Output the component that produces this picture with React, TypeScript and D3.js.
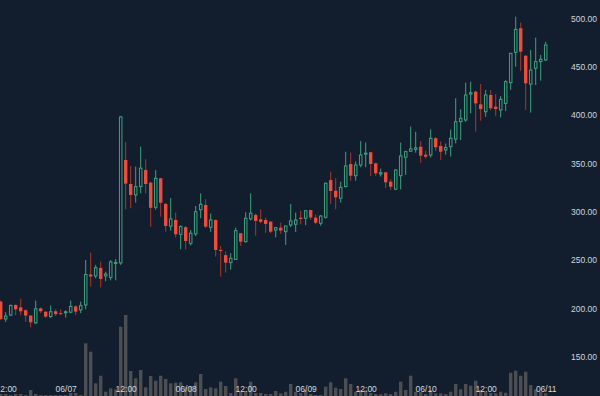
import React, { useEffect, useRef } from "react";
import * as d3 from "d3";

// hourly candles, first one at 06/06 11:00
const startTime = Date.UTC(2018, 5, 6, 11);

const opens = [
  207, 189, 193, 203.5, 201, 198, 192.5, 185, 200, 196.5, 191.5, 197, 195, 195.6, 196, 202, 198.4, 203.5, 235, 233.5,
  241.8, 233.5, 232, 246.5, 247, 353.5, 328.6, 317.3, 326, 343, 330, 304.5, 334.5, 308, 285, 291.4, 276.6, 283.9, 267.3, 277,
  302, 306.9, 283.9, 291.4, 260.4, 255, 247.3, 250.6, 277.7, 269, 292.5, 296.6, 292, 291.4, 289.7, 281, 283.5, 279.3, 286.2, 287,
  293.8, 293.2, 301.7, 293.8, 288, 294.2, 332.7, 321.7, 313.9, 326, 349.3, 337.2, 348.3, 359.5, 361.4, 350, 339, 340.7, 331, 323.2,
  337.2, 356.3, 362.5, 364.4, 367.2, 358.9, 358.6, 376, 368, 363.8, 367.2, 375, 393.1, 394.8, 421.7, 424.1, 411, 403.4, 420.7, 408.6,
  405.2, 412, 433.4, 464.8, 489.7, 461.3, 432, 448.3, 455.2, 456.9,
];
const highs = [
  208, 196, 204, 204, 210, 199, 193, 208, 201, 197, 203, 199, 199, 198, 208, 203, 207, 250, 257.6, 245,
  248.3, 238, 250, 251, 399, 372, 347.3, 346.6, 367.2, 354.2, 331, 343, 335, 309, 314, 299, 286, 285, 281, 305.9,
  319, 312.8, 298, 292, 264.5, 258.6, 257, 283.5, 278, 299.4, 319, 298, 302.5, 294, 290, 284, 288.6, 285.5, 308, 299,
  301, 301.5, 302, 297, 296.5, 330, 341.4, 334.5, 331, 362, 361, 352, 373, 371.6, 362, 350.5, 344.5, 341, 333.5, 344,
  371.4, 363, 387.9, 382.7, 373, 363, 385.2, 377, 372.6, 370.5, 385, 417.3, 405.9, 433.4, 434.4, 425, 432.1, 426, 425.8, 421.7,
  419.5, 436, 464, 501.7, 495.5, 462, 467.2, 480, 462, 475.8,
];
const lows = [
  188, 186, 192, 193, 193, 186, 180.5, 184, 195, 190, 190, 192, 193, 190.4, 195, 193, 195, 199, 222.5, 231,
  221.8, 228, 229, 229, 245, 302.5, 303.5, 309.4, 319, 319, 284.5, 302, 294.8, 279.3, 280.4, 273.1, 261.1, 261, 265, 274.9,
  293.2, 283, 279, 253.5, 232.8, 236.9, 240, 250, 264.5, 268, 291, 275.2, 288, 278.3, 277.7, 273.5, 277, 265.6, 284, 279,
  287, 286, 291.5, 287, 285.5, 293, 308, 302.5, 309.4, 325, 332, 332, 346, 346, 336.9, 337, 336.3, 324.2, 322.5, 323,
  323, 338, 362, 361, 350.7, 355, 356, 362.7, 353.5, 359, 357, 370.7, 374.1, 393, 401.8, 382.7, 394.1, 398, 405, 399,
  397.6, 404, 426, 450, 445.8, 405.2, 402.4, 431, 435.5, 456,
];
const closes = [
  189, 192, 203, 199, 197, 192.5, 185.6, 199.5, 197, 191.5, 196.5, 194, 194, 196.5, 202, 196.6, 202.8, 235, 233, 242,
  230.4, 235.5, 248, 247.5, 398, 329, 317.3, 325.9, 345, 328.6, 304, 334.5, 309.3, 285.2, 292.5, 276.6, 284.5, 269.7, 277.7, 300,
  307.6, 284.5, 291.4, 260.4, 259.5, 247.3, 251.8, 280.4, 269, 293.2, 298.4, 290.4, 289.6, 287.3, 279.3, 283.5, 280.4, 285.2, 290.4, 291.4,
  292.5, 301, 294, 288.6, 295.5, 329.4, 321.4, 314.9, 325.2, 347.3, 337.2, 348.3, 358.6, 360.5, 349.3, 339.7, 340.3, 330.4, 325.8, 343.1,
  357.6, 362.1, 365, 366, 357.9, 356.9, 375.9, 366.6, 362, 366.3, 375.9, 393, 396.6, 420.7, 423, 412, 406.2, 420.7, 407, 406.2,
  416.2, 434.4, 463.8, 488.6, 465.5, 432.8, 446.5, 455.2, 457.6, 472.4,
];
const volumes = [
  2, 2, 1, 2, 2, 1, 6, 2, 1, 1, 1, 1, 1, 1, 3, 3, 1, 52.7, 44.3, 12.7,
  20.3, 4.3, 7.7, 6.7, 69.3, 81, 25, 17.7, 26, 8.7, 20, 15.3, 20.3, 17, 12.7, 13.3, 13.7, 9, 10, 13.7,
  22, 7, 8.7, 7.7, 14.3, 10, 3, 17.7, 4, 5, 14.3, 3, 3, 2, 2, 5, 2.7, 4.3, 12, 4.3,
  3, 6, 2, 1, 1, 9.3, 13.7, 8.3, 7, 17.7, 12, 4.3, 6, 6, 3, 2, 1.7, 2.7, 2, 4.3,
  14.3, 6, 20.3, 4.3, 4, 2, 6, 2.7, 2.7, 2, 4.3, 12, 6.7, 12, 10.3, 15.3, 6, 4, 3, 2.7,
  4.3, 3.3, 23.3, 25.3, 20.3, 24.3, 11, 6.7, 4.3, 2.7,
];
const priceTicks = [150, 200, 250, 300, 350, 400, 450, 500];

export default function App() {
  const svgRef = useRef<SVGSVGElement>(null);

  useEffect(() => {
    document.body.style.margin = "0";
    const width = 600;
    const height = 396;
    const bg = "#121e2e";
    const upColor = "#3fa27e";
    const downColor = "#ef4d3c";
    const downWick = "#a9382f";

    const data = opens.map((o, i) => ({
      t: new Date(startTime + i * 3600 * 1000),
      o,
      h: highs[i],
      l: lows[i],
      c: closes[i],
      v: volumes[i],
    }));

    const hour = 3600 * 1000;
    const x = d3
      .scaleUtc()
      .domain([new Date(startTime - 0.14 * hour), new Date(startTime + 111.86 * hour)])
      .range([0, 560]);
    const y = d3.scaleLinear().domain([150, 500]).range([356.7, 18.3]);
    const yVol = d3
      .scaleLinear()
      .domain([0, d3.max(volumes) as number])
      .range([height, 315]);

    const svg = d3.select(svgRef.current).attr("width", width).attr("height", height);
    svg.selectAll("*").remove();

    svg.append("rect").attr("width", width).attr("height", height).attr("fill", bg);

    // volume
    svg
      .append("g")
      .selectAll("rect")
      .data(data)
      .join("rect")
      .attr("x", (d) => x(d.t) - 1.7)
      .attr("width", 3.4)
      .attr("y", (d) => yVol(d.v))
      .attr("height", (d) => height - yVol(d.v))
      .attr("fill", "#4c4e51");

    const candles = svg.append("g").selectAll("g").data(data).join("g");

    candles
      .append("line")
      .attr("x1", (d) => x(d.t))
      .attr("x2", (d) => x(d.t))
      .attr("y1", (d) => y(d.h))
      .attr("y2", (d) => y(d.l))
      .attr("stroke", (d) => (d.c >= d.o ? upColor : downWick))
      .attr("stroke-width", 1);

    candles
      .append("rect")
      .attr("x", (d) => x(d.t) - (d.c >= d.o ? 1.25 : 1.7))
      .attr("width", (d) => (d.c >= d.o ? 2.5 : 3.4))
      .attr("y", (d) => y(Math.max(d.o, d.c)))
      .attr("height", (d) => Math.max(1, Math.abs(y(d.o) - y(d.c))))
      .attr("fill", (d) => (d.c >= d.o ? bg : downColor))
      .attr("stroke", (d) => (d.c >= d.o ? upColor : "none"))
      .attr("stroke-width", 1);

    const font = "Helvetica, Arial, 'Liberation Sans', sans-serif";

    const yAxis = svg
      .append("g")
      .attr("transform", "translate(566,0)")
      .call(
        d3
          .axisRight(y)
          .tickValues(priceTicks)
          .tickSize(0)
          .tickPadding(5)
          .tickFormat((d) => d3.format(".2f")(d as number))
      );
    yAxis.select(".domain").remove();
    yAxis.selectAll("text").attr("fill", "#d3d6da").attr("font-size", 8.5).attr("font-family", font);

    const fmtDay = d3.utcFormat("%m/%d");
    const fmtHour = d3.utcFormat("%H:%M");
    const xAxis = svg
      .append("g")
      .attr("transform", "translate(0,383.5)")
      .call(
        d3
          .axisBottom(x)
          .ticks(d3.utcHour.every(12))
          .tickSize(0)
          .tickPadding(2)
          .tickFormat((d) => {
            const dt = d as Date;
            return dt.getUTCHours() === 0 ? fmtDay(dt) : fmtHour(dt);
          })
      );
    xAxis.select(".domain").remove();
    xAxis.selectAll("text").attr("fill", "#d3d6da").attr("font-size", 8.5).attr("font-family", font);
  }, []);

  return <svg ref={svgRef} style={{ display: "block" }}></svg>;
}
